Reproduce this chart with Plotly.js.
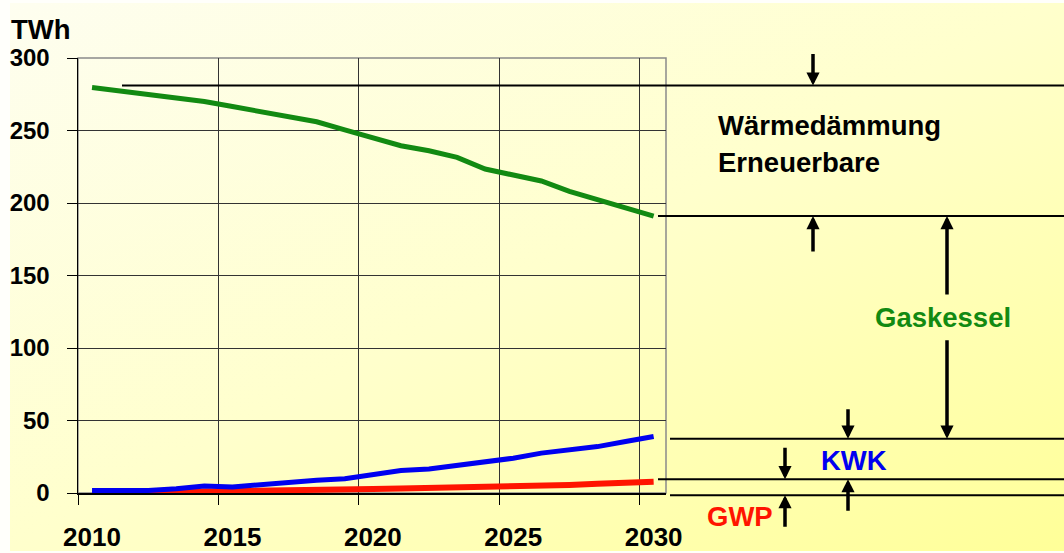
<!DOCTYPE html>
<html>
<head>
<meta charset="utf-8">
<script src="https://cdn.plot.ly/plotly-3.0.1.min.js"></script>
<style>
  html, body { margin: 0; padding: 0; background: #fffffb; }
  #panel {
    position: absolute; left: 10px; top: 3px; width: 1054px; height: 548px;
    background: linear-gradient(to bottom right, #fefef0 0%, #ffffcc 50%, #ffff98 100%);
  }
  #chart { position: absolute; left: 0; top: 0; width: 1064px; height: 553px; }
</style>
</head>
<body>
<div id="panel"></div>
<div id="chart"></div>
<script>
// Heat supply by technology, TWh per year
const years = [2010, 2011, 2012, 2013, 2014, 2015, 2016, 2017, 2018, 2019, 2020,
               2021, 2022, 2023, 2024, 2025, 2026, 2027, 2028, 2029, 2030];
const gaskessel = [279.7, 277.3, 274.9, 272.5, 270.0, 266.5, 263.0, 259.5, 256.0, 250.5, 245.3,
                   239.5, 236.0, 231.5, 223.4, 219.0, 215.2, 208.0, 202.5, 197.0, 191.0];
const kwk = [1.8, 1.8, 1.8, 3.0, 4.8, 4.2, 5.8, 7.8, 8.8, 9.8, 12.5,
             15.5, 16.5, 19.0, 21.5, 24.0, 27.5, 29.5, 32.0, 35.5, 39.0];
const gwp = [0.0, 0.0, 0.3, 0.6, 1.0, 1.3, 1.8, 2.0, 2.2, 2.5, 2.8,
             3.1, 3.4, 4.0, 4.0, 4.0, 5.0, 5.5, 6.3, 7.3, 7.8];

const yearLabels = [2010, 2015, 2020, 2025, 2030];
const yTicks = [0, 50, 100, 150, 200, 250, 300];

// Levels of the bracket lines on the right (TWh)
const bracketLevels = [281, 191, 37.5, 9.5, -1.5];

const FONT = 'Liberation Sans, Arial, sans-serif';
const GREEN = '#128a12';
const BLUE = '#0000f0';
const RED = '#ff1400';

const Y_RANGE = [0, 300];

const traces = [
  { x: years, y: gaskessel, type: 'scatter', mode: 'lines', name: 'Gaskessel',
    line: { color: GREEN, width: 5 }, hoverinfo: 'skip' },
  { x: years, y: gwp, type: 'scatter', mode: 'lines', name: 'GWP',
    line: { color: RED, width: 6 }, hoverinfo: 'skip' },
  { x: years, y: kwk, type: 'scatter', mode: 'lines', name: 'KWK',
    line: { color: BLUE, width: 5 }, hoverinfo: 'skip' },
  // carries the year labels on the overlaid axis
  { x: yearLabels, y: yearLabels.map(() => null), xaxis: 'x2', yaxis: 'y',
    type: 'scatter', mode: 'lines', showlegend: false, hoverinfo: 'skip' }
];

// plot area in page pixels
const L = 78, T = 58, W = 588, H = 435;
const px = x => (x - L) / W;          // page x -> paper x
const py = y => (T + H - y) / H;      // page y -> paper y
const RIGHT = px(1064);
// TWh level -> paper y, following the y axis range (works below the axis too)
const lvPaper = v => (v - Y_RANGE[0]) / (Y_RANGE[1] - Y_RANGE[0]);

const shapes = [
  // light frame around the plot area
  { type: 'rect', xref: 'paper', yref: 'paper', x0: 0, x1: 1, y0: 0, y1: 1,
    line: { color: '#8a8a8a', width: 1.5 }, layer: 'below' }
];

// horizontal bracket lines reaching to the right edge
const lineStarts = [122, 658, 670, 658, 670];
bracketLevels.forEach((lv, i) => {
  shapes.push({ type: 'line', xref: 'paper', yref: 'paper', x0: px(lineStarts[i]), x1: RIGHT,
                y0: lvPaper(lv), y1: lvPaper(lv), line: { color: '#000000', width: 2 }, layer: 'above' });
});

const arrowBase = { text: '', showarrow: true, arrowhead: 2, arrowsize: 0.75,
                    arrowwidth: 3.5, arrowcolor: '#000000', xref: 'paper', yref: 'paper',
                    axref: 'pixel', ayref: 'pixel', ax: 0, standoff: 0 };
const arrows = [
  { x: px(813), lv: 0, ay: -33 },
  { x: px(813), lv: 1, ay: 37 },
  { x: px(947), lv: 1, ay: 80 },
  { x: px(947), lv: 2, ay: -100 },
  { x: px(848), lv: 2, ay: -31 },
  { x: px(848), lv: 3, ay: 33 },
  { x: px(785), lv: 3, ay: -33 },
  { x: px(785), lv: 4, ay: 33 }
].map(a => Object.assign({}, arrowBase, { x: a.x, y: lvPaper(bracketLevels[a.lv]), ay: a.ay }));

const label = (text, x, y, color, xanchor) => ({
  text: text, x: px(x), y: py(y), xref: 'paper', yref: 'paper',
  xanchor: xanchor, yanchor: 'middle', showarrow: false,
  font: { family: FONT, size: 27.5, color: color, weight: 'bold' }
});

const annotations = arrows.concat([
  label('TWh', 9, 29.5, '#000000', 'left'),
  label('Wärmedämmung', 716, 125, '#000000', 'left'),
  label('Erneuerbare', 716, 162.5, '#000000', 'left'),
  label('Gaskessel', 943, 317, GREEN, 'center'),
  label('KWK', 854, 460, BLUE, 'center'),
  label('GWP', 740, 516, RED, 'center')
]);

const layout = {
  width: 1064, height: 553,
  margin: { l: L, r: 1064 - L - W, t: T, b: 553 - T - H, pad: 0 },
  paper_bgcolor: 'rgba(0,0,0,0)',
  plot_bgcolor: 'rgba(0,0,0,0)',
  showlegend: false,
  font: { family: FONT, color: '#000000' },
  xaxis: {
    range: [2009.5, 2030.44], tickmode: 'linear', tick0: 2009.5, dtick: 5,
    showticklabels: false, ticks: 'outside', ticklen: 10, tickcolor: '#000000', tickwidth: 1,
    showgrid: true, gridcolor: '#333333', gridwidth: 1,
    showline: true, linecolor: '#000000', linewidth: 1.5, zeroline: false
  },
  xaxis2: {
    overlaying: 'x', matches: 'x', anchor: 'y', side: 'bottom',
    tickmode: 'array', tickvals: yearLabels, ticktext: yearLabels.map(String),
    ticks: '', showgrid: false, showline: false, zeroline: false,
    ticklabelstandoff: 26,
    tickfont: { family: FONT, size: 26, color: '#000000', weight: 'bold' }
  },
  yaxis: {
    range: Y_RANGE, tickmode: 'array', tickvals: yTicks,
    ticks: 'outside', ticklen: 10, tickcolor: '#000000', tickwidth: 1,
    showgrid: true, gridcolor: '#333333', gridwidth: 1,
    showline: true, linecolor: '#000000', linewidth: 1.5, zeroline: false,
    ticklabelstandoff: 12,
    tickfont: { family: FONT, size: 24, color: '#000000', weight: 'bold' }
  },
  shapes: shapes,
  annotations: annotations
};

Plotly.newPlot('chart', traces, layout, { staticPlot: true, displayModeBar: false });
</script>
</body>
</html>
